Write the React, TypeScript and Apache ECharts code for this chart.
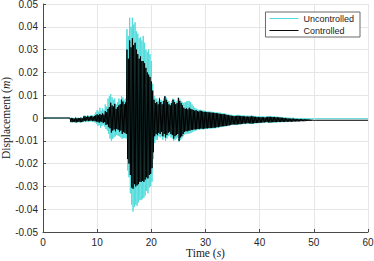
import React, { useEffect, useRef } from "react";
import * as echarts from "echarts";

// Read peaks/troughs: one peak and one trough every 0.25 s from 5 s to 50 s
const startTime = 5;
const halfPeriod = 0.125;
const quietStart = 0;
const quietEnd = 5;
const endTime = 60;

const xTicks = [0, 10, 20, 30, 40, 50, 60];
const yTicks = [-0.05, -0.04, -0.03, -0.02, -0.01, 0, 0.01, 0.02, 0.03, 0.04, 0.05];

// Uncontrolled (cyan) positive peaks
const uncPeaks = [
  0.0, 0.0002, 0.0001, -0.0001, 0.0003, 0.0001, 0.0002, 0.0, 0.0003, 0.0001,
  0.001, 0.0012, 0.0008, 0.0013, 0.0009, 0.0011, 0.0013, 0.001, 0.0015, 0.0025,
  0.0035, 0.0028, 0.0045, 0.0032, 0.0042, 0.0035, 0.006, 0.005, 0.0085, 0.0095,
  0.0105, 0.009, 0.008, 0.0085, 0.006, 0.007, 0.0085, 0.008, 0.0096, 0.009,
  0.008, 0.0085, 0.039, 0.036, 0.044, 0.04, 0.044, 0.041, 0.042, 0.038,
  0.037, 0.035, 0.0355, 0.034, 0.036, 0.033, 0.03, 0.029, 0.03, 0.028,
  0.025, 0.015, 0.0096, 0.0085, 0.0085, 0.0075, 0.009, 0.008, 0.0075, 0.0085,
  0.0096, 0.009, 0.008, 0.0075, 0.0065, 0.0075, 0.0085, 0.008, 0.007, 0.0075,
  0.009, 0.0085, 0.0075, 0.0068, 0.0065, 0.007, 0.0072, 0.0075, 0.0075, 0.007,
  0.006, 0.0052, 0.0045, 0.0042, 0.0038, 0.0036, 0.0036, 0.0035, 0.0033, 0.0032,
  0.0031, 0.003, 0.0029, 0.0028, 0.0028, 0.0027, 0.0026, 0.0025, 0.0025, 0.0024,
  0.0024, 0.0023, 0.0022, 0.0021, 0.002, 0.0019, 0.0017, 0.0016, 0.0015, 0.0014,
  0.0013, 0.0013, 0.0013, 0.0013, 0.0014, 0.0013, 0.0012, 0.0012, 0.0011, 0.0011,
  0.001, 0.001, 0.001, 0.001, 0.0011, 0.001, 0.0009, 0.0009, 0.0008, 0.0008,
  0.0008, 0.0008, 0.0007, 0.0007, 0.0006, 0.0007, 0.0008, 0.0008, 0.0008, 0.0008,
  0.0007, 0.0007, 0.0006, 0.0006, 0.0005, 0.0005, 0.0004, 0.0004, 0.0003, 0.0003,
  0.0002, 0.0002, 0.0001, 0.0001, 0.0001, 0.0001, 0.0, 0.0, 0.0, 0.0,
  -0.0001, -0.0001, -0.0001, -0.0001, -0.0001, -0.0001, -0.0002, -0.0002, -0.0002, -0.0002,
  -0.0002,
];
// Uncontrolled (cyan) negative troughs
const uncTroughs = [
  -0.0019, -0.002, -0.0019, -0.0018, -0.0021, -0.002, -0.0019, -0.0021, -0.002, -0.0018,
  -0.0016, -0.0018, -0.0017, -0.0018, -0.0015, -0.0016, -0.0017, -0.0018, -0.002, -0.0025,
  -0.0035, -0.003, -0.0042, -0.0035, -0.003, -0.0038, -0.0048, -0.0055, -0.007, -0.009,
  -0.01, -0.0092, -0.0085, -0.008, -0.0075, -0.0078, -0.008, -0.0085, -0.0092, -0.0088,
  -0.0088, -0.009, -0.023, -0.026, -0.033, -0.038, -0.041, -0.039, -0.038, -0.0385,
  -0.037, -0.036, -0.036, -0.0355, -0.035, -0.034, -0.032, -0.033, -0.0305, -0.03,
  -0.028, -0.018, -0.011, -0.0095, -0.0095, -0.008, -0.0085, -0.008, -0.0095, -0.0085,
  -0.01, -0.009, -0.008, -0.0075, -0.0085, -0.009, -0.01, -0.0095, -0.009, -0.0085,
  -0.0105, -0.0095, -0.009, -0.008, -0.0072, -0.007, -0.007, -0.0068, -0.0068, -0.0065,
  -0.0062, -0.0058, -0.0055, -0.0054, -0.0052, -0.0052, -0.005, -0.005, -0.005, -0.0049,
  -0.0048, -0.0048, -0.0047, -0.0047, -0.0046, -0.0046, -0.0045, -0.0045, -0.0043, -0.0043,
  -0.0041, -0.004, -0.0039, -0.0038, -0.0037, -0.0036, -0.0035, -0.0034, -0.0032, -0.0031,
  -0.003, -0.003, -0.0031, -0.003, -0.0029, -0.0029, -0.0028, -0.0027, -0.0026, -0.0026,
  -0.0025, -0.0025, -0.0025, -0.0026, -0.0026, -0.0025, -0.0024, -0.0024, -0.0023, -0.0023,
  -0.0022, -0.0022, -0.0021, -0.0021, -0.002, -0.002, -0.0021, -0.0021, -0.0021, -0.002,
  -0.002, -0.002, -0.0019, -0.0019, -0.0019, -0.0019, -0.0018, -0.0018, -0.0018, -0.0018,
  -0.0017, -0.0017, -0.0016, -0.0016, -0.0015, -0.0015, -0.0014, -0.0014, -0.0013, -0.0013,
  -0.0012, -0.0012, -0.0011, -0.0011, -0.001, -0.001, -0.0009, -0.0008, -0.0007, -0.0006,
  -0.0005,
];
const uncRest = -0.0003;

// Controlled (black) positive peaks
const ctlPeaks = [
  -0.0002, 0.0, -0.0001, -0.0003, 0.0001, -0.0002, 0.0, -0.0001, 0.0001, -0.0002,
  0.0006, 0.0008, 0.0004, 0.0009, 0.0005, 0.0007, 0.0009, 0.0006, 0.0008, 0.0012,
  0.0016, 0.0012, 0.0018, 0.0014, 0.002, 0.0015, 0.003, 0.0025, 0.004, 0.0048,
  0.0067, 0.0055, 0.005, 0.0062, 0.004, 0.0048, 0.0055, 0.006, 0.008, 0.0072,
  0.006, 0.0068, 0.03, 0.026, 0.034, 0.031, 0.035, 0.032, 0.033, 0.03,
  0.028, 0.026, 0.027, 0.025, 0.025, 0.024, 0.022, 0.02, 0.019, 0.018,
  0.016, 0.012, 0.008, 0.0065, 0.007, 0.006, 0.0085, 0.007, 0.006, 0.0075,
  0.0095, 0.008, 0.007, 0.006, 0.0055, 0.0065, 0.008, 0.007, 0.006, 0.0065,
  0.0088, 0.0075, 0.0065, 0.0055, 0.0045, 0.004, 0.0042, 0.0038, 0.0045, 0.004,
  0.0038, 0.0035, 0.0032, 0.0034, 0.003, 0.0028, 0.0032, 0.003, 0.0028, 0.0027,
  0.0027, 0.0026, 0.0025, 0.0024, 0.0024, 0.0023, 0.0023, 0.0022, 0.0021, 0.002,
  0.0019, 0.0018, 0.0017, 0.0017, 0.0016, 0.0015, 0.0013, 0.0012, 0.0011, 0.001,
  0.0009, 0.0008, 0.0008, 0.0009, 0.001, 0.0009, 0.0008, 0.0008, 0.0007, 0.0007,
  0.0006, 0.0006, 0.0006, 0.0006, 0.0007, 0.0007, 0.0005, 0.0005, 0.0004, 0.0004,
  0.0003, 0.0003, 0.0003, 0.0003, 0.0002, 0.0003, 0.0005, 0.0005, 0.0005, 0.0004,
  0.0004, 0.0004, 0.0003, 0.0003, 0.0002, 0.0002, 0.0001, 0.0001, 0.0, 0.0,
  -0.0002, -0.0002, -0.0003, -0.0003, -0.0003, -0.0003, -0.0004, -0.0004, -0.0005, -0.0005,
  -0.0005, -0.0005, -0.0006, -0.0006, -0.0006, -0.0006, -0.0007, -0.0007, -0.0008, -0.0008,
  -0.0009,
];
// Controlled (black) negative troughs
const ctlTroughs = [
  -0.0017, -0.0018, -0.0016, -0.0018, -0.0019, -0.0017, -0.0016, -0.0018, -0.0017, -0.0016,
  -0.0012, -0.0014, -0.0011, -0.0013, -0.0012, -0.0011, -0.0013, -0.0012, -0.0014, -0.0015,
  -0.0017, -0.002, -0.0015, -0.0018, -0.0022, -0.0018, -0.003, -0.0028, -0.004, -0.0045,
  -0.0064, -0.0055, -0.005, -0.0058, -0.0048, -0.0052, -0.006, -0.0055, -0.007, -0.0062,
  -0.0065, -0.007, -0.018, -0.02, -0.025, -0.0305, -0.031, -0.029, -0.03, -0.0295,
  -0.029, -0.028, -0.028, -0.0275, -0.028, -0.027, -0.026, -0.0265, -0.025, -0.0245,
  -0.022, -0.015, -0.008, -0.007, -0.0075, -0.0065, -0.007, -0.006, -0.008, -0.007,
  -0.0085, -0.0075, -0.0065, -0.006, -0.007, -0.0075, -0.009, -0.008, -0.0075, -0.007,
  -0.01, -0.0085, -0.008, -0.007, -0.006, -0.0058, -0.0058, -0.0055, -0.0055, -0.0052,
  -0.0052, -0.005, -0.005, -0.0049, -0.0048, -0.0048, -0.0046, -0.0047, -0.0047, -0.0046,
  -0.0045, -0.0045, -0.0044, -0.0044, -0.0043, -0.0043, -0.0042, -0.0042, -0.004, -0.004,
  -0.0038, -0.0037, -0.0036, -0.0036, -0.0035, -0.0034, -0.0033, -0.0032, -0.003, -0.0029,
  -0.0028, -0.0028, -0.0029, -0.0028, -0.0027, -0.0027, -0.0026, -0.0025, -0.0024, -0.0024,
  -0.0023, -0.0023, -0.0023, -0.0024, -0.0024, -0.0023, -0.0022, -0.0022, -0.0021, -0.0021,
  -0.002, -0.002, -0.0019, -0.0019, -0.0018, -0.0018, -0.0019, -0.0019, -0.0019, -0.0018,
  -0.0018, -0.0018, -0.0018, -0.0017, -0.0017, -0.0017, -0.0017, -0.0017, -0.0017, -0.0016,
  -0.0016, -0.0016, -0.0016, -0.0016, -0.0016, -0.0015, -0.0015, -0.0015, -0.0015, -0.0015,
  -0.0014, -0.0014, -0.0014, -0.0014, -0.0013, -0.0013, -0.0013, -0.0013, -0.0012, -0.0012,
  -0.0011,
];
const ctlRest = -0.001;

const seriesNames = ["Uncontrolled", "Controlled"];
const seriesColors = ["#52dcdc", "#000000"];

function buildTrace(peaks: number[], troughs: number[], rest: number): number[][] {
  const pts: number[][] = [
    [quietStart, 0],
    [quietEnd, 0],
  ];
  for (let i = 0; i < peaks.length; i++) {
    const t = startTime + i * 2 * halfPeriod;
    pts.push([t, peaks[i]]);
    pts.push([t + halfPeriod, troughs[i]]);
  }
  const last = startTime + peaks.length * 2 * halfPeriod;
  pts.push([last, rest]);
  pts.push([endTime, rest]);
  return pts;
}

export default function App() {
  const ref = useRef<HTMLDivElement>(null);
  useEffect(() => {
    if (!ref.current) return;
    const chart = echarts.init(ref.current, undefined, { renderer: "svg" });
    const serif = "'Liberation Serif', 'Times New Roman', serif";
    const sans = "'Liberation Sans', Arial, Helvetica, sans-serif";
    chart.setOption({
      animation: false,
      backgroundColor: "#ffffff",
      grid: { left: 43, right: 6, top: 4, bottom: 29, containLabel: false, outerBoundsMode: "none" },
      legend: {
        data: seriesNames,
        right: 14,
        top: 12,
        orient: "vertical",
        itemWidth: 29,
        itemHeight: 8,
        itemGap: 3,
        padding: [2, 6, 2, 4],
        backgroundColor: "#ffffff",
        borderColor: "#6a6a6a",
        borderWidth: 1,
        borderRadius: 0,
        textStyle: { fontFamily: sans, fontSize: 9, color: "#1a1a1a", lineHeight: 9 },
        icon: "path://M0,0 L30,0 L30,1 L0,1 Z",
      },
      xAxis: {
        type: "value",
        min: xTicks[0],
        max: xTicks[xTicks.length - 1],
        interval: xTicks[1] - xTicks[0],
        name: "Time ({i|s})",
        nameLocation: "middle",
        nameGap: 15,
        nameMoveOverlap: false,
        nameTextStyle: {
          fontFamily: serif,
          fontSize: 11.5,
          color: "#1a1a1a",
          rich: { i: { fontStyle: "italic", fontFamily: serif, fontSize: 11.5, color: "#1a1a1a" } },
        },
        axisLine: { show: true, onZero: false, lineStyle: { color: "#4a4a4a", width: 1 } },
        axisTick: { show: true, inside: true, length: 3, lineStyle: { color: "#4a4a4a" } },
        axisLabel: { fontFamily: sans, fontSize: 10, color: "#262626", margin: 5 },
        splitLine: { show: true, lineStyle: { color: "#e6e6e6", width: 1 } },
      },
      yAxis: {
        type: "value",
        min: yTicks[0],
        max: yTicks[yTicks.length - 1],
        interval: 0.01,
        name: "Displacement ({i|m})",
        nameLocation: "middle",
        nameGap: 31,
        nameMoveOverlap: false,
        nameTextStyle: {
          fontFamily: serif,
          fontSize: 11.5,
          color: "#1a1a1a",
          rich: { i: { fontStyle: "italic", fontFamily: serif, fontSize: 11.5, color: "#1a1a1a" } },
        },
        axisLine: { show: true, onZero: false, lineStyle: { color: "#4a4a4a", width: 1 } },
        axisTick: { show: true, inside: true, length: 3, lineStyle: { color: "#4a4a4a" } },
        axisLabel: {
          fontFamily: sans,
          fontSize: 10,
          color: "#262626",
          margin: 5,
          formatter: (v: number) => String(Math.round(v * 100) / 100),
        },
        splitLine: { show: true, lineStyle: { color: "#e6e6e6", width: 1 } },
      },
      series: [
        {
          name: seriesNames[0],
          type: "line",
          data: buildTrace(uncPeaks, uncTroughs, uncRest),
          symbol: "none",
          color: seriesColors[0],
          lineStyle: { color: seriesColors[0], width: 1 },
          z: 2,
        },
        {
          name: seriesNames[1],
          type: "line",
          data: buildTrace(ctlPeaks, ctlTroughs, ctlRest),
          symbol: "none",
          color: seriesColors[1],
          lineStyle: { color: seriesColors[1], width: 1 },
          z: 3,
        },
      ],
    });
    return () => chart.dispose();
  }, []);
  return (
    <div
      ref={ref}
      style={{ position: "fixed", left: 0, top: 0, width: 374, height: 261, background: "#fff" }}
    />
  );
}
